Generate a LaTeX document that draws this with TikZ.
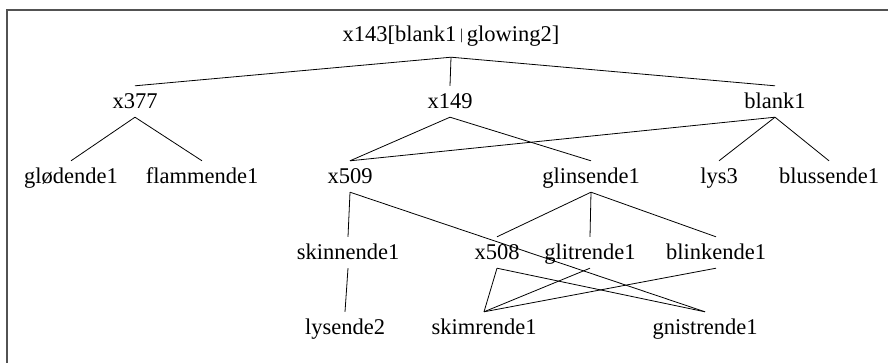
\documentclass[tikz,border=0pt]{standalone}
\usepackage{fontspec}
\setmainfont{Liberation Serif}
\begin{document}
\begin{tikzpicture}[x=1pt,y=-1pt,
  lbl/.style={anchor=base,inner xsep=0pt,inner ysep=4pt,text height=18pt,text depth=5pt,font=\fontsize{22.5}{26}\selectfont},
  edge/.style={line width=0.8pt,black}]
\useasboundingbox (0,0) rectangle (888,362);
\begin{scope}
\clip (0,0) rectangle (888,362);
\draw[line width=1.6pt,black!68] (7,10) rectangle (900,380);
\end{scope}
\node[lbl,text depth=12pt] (root) at (451,41) {x143[blank1\,{\fontsize{15}{16}\selectfont\raisebox{1.5pt}{|}}\,glowing2]};
\node[lbl] (x377) at (135,108) {x377};
\node[lbl] (x149) at (450,108) {x149};
\node[lbl] (blank1) at (775,108) {blank1};
\node[lbl] (glodende) at (71,183) {glødende1};
\node[lbl] (flammende) at (202,183) {flammende1};
\node[lbl] (x509) at (350,183) {x509};
\node[lbl] (glinsende) at (591,183) {glinsende1};
\node[lbl] (lys) at (719,183) {lys3};
\node[lbl] (blussende) at (829,183) {blussende1};
\node[lbl] (skinnende) at (348,259) {skinnende1};
\node[lbl] (x508) at (497,259) {x508};
\node[lbl] (glitrende) at (590,259) {glitrende1};
\node[lbl] (blinkende) at (716,259) {blinkende1};
\node[lbl] (lysende) at (345,334) {lysende2};
\node[lbl] (skimrende) at (484,334) {skimrende1};
\node[lbl] (gnistrende) at (705,334) {gnistrende1};
\draw[edge] (root.south) -- (x377.north);
\draw[edge] (root.south) -- (x149.north);
\draw[edge] (root.south) -- (blank1.north);
\draw[edge] (x377.south) -- (glodende.north);
\draw[edge] (x377.south) -- (flammende.north);
\draw[edge] (x149.south) -- (x509.north);
\draw[edge] (x149.south) -- (glinsende.north);
\draw[edge] (blank1.south) -- (x509.north);
\draw[edge] (blank1.south) -- (lys.north);
\draw[edge] (blank1.south) -- (blussende.north);
\draw[edge] (x509.south) -- (skinnende.north);
\draw[edge] (x509.south) -- (gnistrende.north);
\draw[edge] (glinsende.south) -- (x508.north);
\draw[edge] (glinsende.south) -- (glitrende.north);
\draw[edge] (glinsende.south) -- (blinkende.north);
\draw[edge] (skinnende.south) -- (lysende.north);
\draw[edge] (x508.south) -- (skimrende.north);
\draw[edge] (x508.south) -- (gnistrende.north);
\draw[edge] (glitrende.south) -- (skimrende.north);
\draw[edge] (blinkende.south) -- (skimrende.north);
\end{tikzpicture}
\end{document}
